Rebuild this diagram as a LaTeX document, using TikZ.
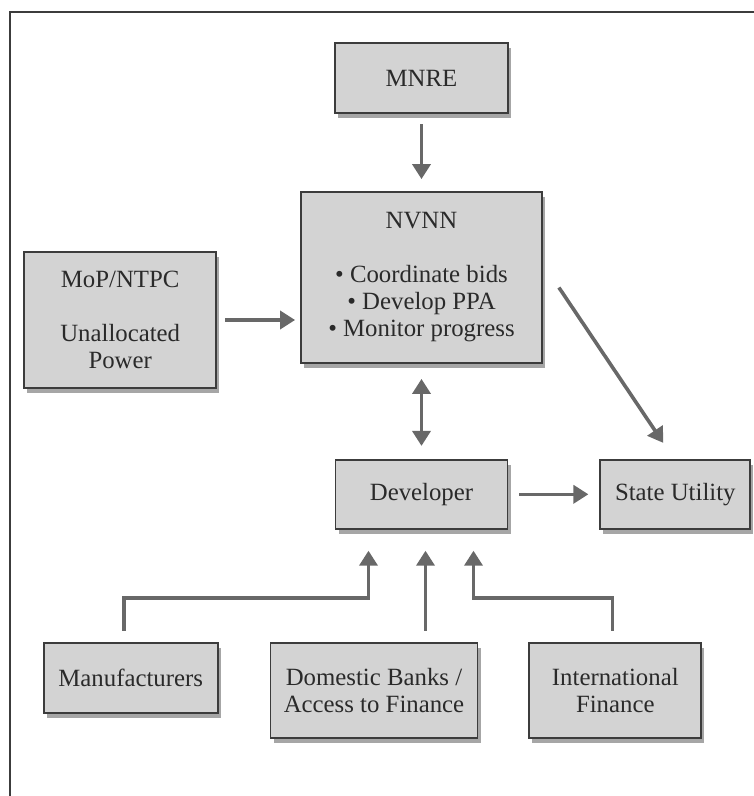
\documentclass[tikz,border=0pt]{standalone}
\usepackage{fontspec}
\setmainfont{Liberation Serif}
\usetikzlibrary{positioning,arrows.meta,calc,shadows}
\usepackage{xcolor}
\definecolor{boxfill}{HTML}{D3D3D3}
\definecolor{boxline}{HTML}{3C3C3C}
\definecolor{arrowgray}{HTML}{686868}
\definecolor{textgray}{HTML}{2A2A2A}

\begin{document}
\begin{tikzpicture}[
      font=\fontsize{24.8}{27}\selectfont,
      >={Triangle[width=18pt,length=15pt]},
      box/.style={draw=boxline, line width=1.8pt, fill=boxfill, text=textgray, inner sep=0pt, align=center,
        drop shadow={shadow xshift=3pt, shadow yshift=-5pt, opacity=0.7}},
      link/.style={draw=arrowgray, line width=3.6pt, ->}
  ]
    \useasboundingbox (0,0) rectangle (754pt,-796pt);
    \draw[line width=2pt, draw=boxline] (754pt,-12pt) -- (10pt,-12pt) -- (10pt,-796pt);

    \node[box, minimum width=241pt, minimum height=171pt] (nvnn) at (421.5pt,-277.5pt)
      {NVNN\\[27pt]\textbullet{} Coordinate bids\\\textbullet{} Develop PPA\\\textbullet{} Monitor progress};
    \node[box, minimum width=173pt, minimum height=70pt, above=77pt of nvnn] (mnre) {MNRE};
    \node[box, minimum width=192pt, minimum height=136pt, left=83pt of nvnn, yshift=-42.5pt] (mop) {MoP/NTPC\\[27pt]Unallocated\\Power};
    \node[box, minimum width=172pt, minimum height=69pt, below=95pt of nvnn] (dev) {Developer};
    \node[box, minimum width=150pt, minimum height=69pt, right=91pt of dev] (state) {State Utility};

    \node[box, minimum width=207pt, minimum height=95pt, below=112pt of dev, xshift=-47.5pt] (banks) {Domestic Banks /\\Access to Finance};
    \node[box, minimum width=174pt, minimum height=70pt, left=51pt of banks.north west, anchor=north east] (manuf) {Manufacturers};
    \node[box, minimum width=172pt, minimum height=95pt, right=50pt of banks] (intl) {International\\Finance};

    \draw[link, shorten <=10pt, shorten >=12pt] (mnre.south) -- (nvnn.north);
    \draw[link, shorten <=8pt, shorten >=5pt] (mop.east) -- (mop.east -| nvnn.west);
    \draw[link, <->, shorten <=15pt, shorten >=13pt] (nvnn.south) -- (dev.north);
    \draw[link] ([xshift=16pt,yshift=-10pt]nvnn.east) -- ([xshift=-12pt,yshift=16pt]state.north);
    \draw[link, shorten <=11pt, shorten >=11pt] (dev.east) -- (state.west);
    \draw[link] ([xshift=-7pt,yshift=11pt]manuf.north) |- ([xshift=-53pt,yshift=-68pt]dev.south) -- ([xshift=-53pt,yshift=-21pt]dev.south);
    \draw[link] ([xshift=51.5pt,yshift=11pt]banks.north) -- ([xshift=4pt,yshift=-21pt]dev.south);
    \draw[link] ([xshift=-3pt,yshift=11pt]intl.north) |- ([xshift=52pt,yshift=-68pt]dev.south) -- ([xshift=52pt,yshift=-21pt]dev.south);
  \end{tikzpicture}
\end{document}
